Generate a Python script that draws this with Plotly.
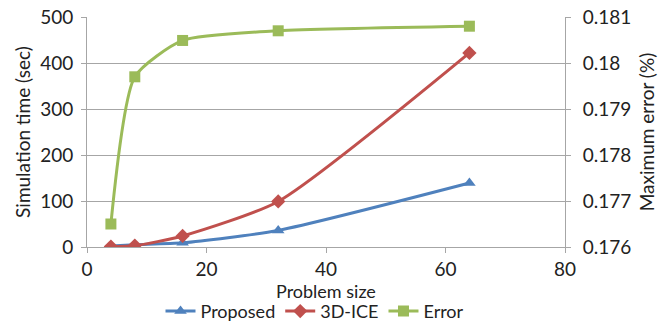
import plotly.graph_objects as go

problem_size = [4, 8, 16, 32, 64]
proposed_sec = [2, 5, 9, 36, 139]
ice3d_sec = [1, 3, 24, 99, 422]
max_error_pct = [0.1765, 0.1797, 0.18049, 0.1807, 0.1808]

FONT = "Lato, Open Sans, sans-serif"
BLUE, RED, GREEN = "#4F81BD", "#C0504D", "#9BBB59"
AXIS = "#A6A6A6"
FS = 19

fig = go.Figure()
fig.add_trace(go.Scatter(
    x=problem_size, y=proposed_sec, name="Proposed", mode="lines+markers",
    line=dict(color=BLUE, width=3, shape="spline", smoothing=0.6),
    marker=dict(symbol="triangle-up", size=11, color=BLUE)))
fig.add_trace(go.Scatter(
    x=problem_size, y=ice3d_sec, name="3D-ICE", mode="lines+markers",
    line=dict(color=RED, width=3, shape="spline", smoothing=0.6),
    marker=dict(symbol="diamond", size=11, color=RED)))
fig.add_trace(go.Scatter(
    x=problem_size, y=max_error_pct, name="Error", mode="lines+markers", yaxis="y2",
    line=dict(color=GREEN, width=3, shape="spline", smoothing=0.6),
    marker=dict(symbol="square", size=11, color=GREEN)))

fig.update_layout(
    width=662, height=322,
    margin=dict(l=87, r=97, t=17, b=75, autoexpand=False),
    paper_bgcolor="white", plot_bgcolor="white",
    font=dict(family=FONT, size=FS, color="#222222"),
    showlegend=True,
    legend=dict(orientation="h", x=0.477, xanchor="center", y=-0.28, yanchor="middle",
                font=dict(size=18), tracegroupgap=0, borderwidth=0),
    xaxis=dict(range=[0, 80], dtick=20, showgrid=False, zeroline=False,
               showline=True, linecolor=AXIS, linewidth=1,
               ticks="outside", tickcolor=AXIS, ticklen=5, ticklabelstandoff=0),
    yaxis=dict(range=[0, 500], dtick=100, showgrid=True, gridcolor=AXIS, gridwidth=1,
               zeroline=False, showline=True, linecolor=AXIS, linewidth=1,
               ticks="outside", tickcolor=AXIS, ticklen=5, ticklabelstandoff=4,
               title=dict(text="Simulation time (sec)", standoff=4, font=dict(size=FS))),
    yaxis2=dict(range=[0.176, 0.181], dtick=0.001, overlaying="y", side="right",
                showgrid=False, zeroline=False, showline=True, linecolor=AXIS, linewidth=1,
                ticks="outside", tickcolor=AXIS, ticklen=5, tickformat="~g",
                ticklabelstandoff=8,
                title=dict(text="Maximum error (%)", standoff=10, font=dict(size=FS))),
    annotations=[dict(text="Problem size", xref="paper", yref="paper",
                      x=0.5, y=-0.19, xanchor="center", yanchor="middle",
                      showarrow=False, font=dict(size=18))],
)

fig.write_html("out.html")
